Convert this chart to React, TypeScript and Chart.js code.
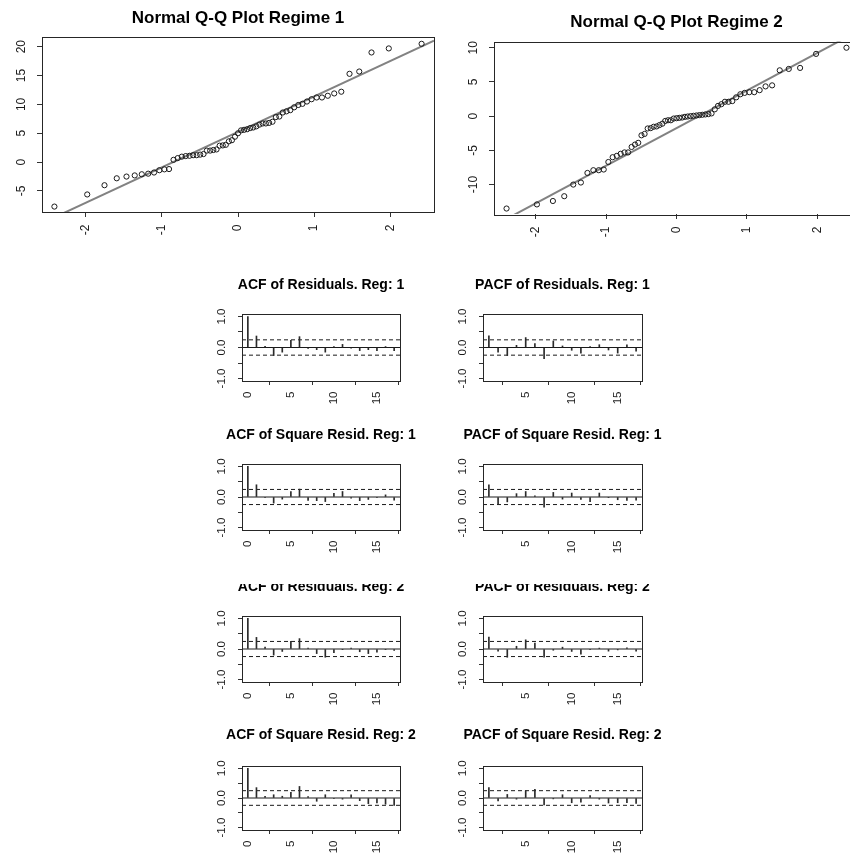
import React, { useEffect, useRef } from "react";
import { Chart, registerables } from "chart.js";

Chart.register(...registerables);

// ---------- DATA ----------
// theoretical normal quantiles (n = 63)
const qqTheoretical = [
  -2.412, -1.981, -1.754, -1.593, -1.465, -1.357, -1.264, -1.18, -1.103, -1.033,
  -0.967, -0.906, -0.847, -0.792, -0.738, -0.687, -0.637, -0.589, -0.543, -0.497,
  -0.453, -0.409, -0.366, -0.324, -0.282, -0.241, -0.2, -0.16, -0.12, -0.08, -0.04,
  0,
  0.04, 0.08, 0.12, 0.16, 0.2, 0.241, 0.282, 0.324, 0.366, 0.409, 0.453,
  0.497, 0.543, 0.589, 0.637, 0.687, 0.738, 0.792, 0.847, 0.906, 0.967,
  1.033, 1.103, 1.18, 1.264, 1.357, 1.465, 1.593, 1.754, 1.981, 2.412,
];
const qq1Sample = [
  -7.7, -5.6, -4.0, -2.8, -2.5, -2.3, -2.1, -2.0, -1.8, -1.4, -1.25, -1.2,
  0.4, 0.7, 0.95, 1.05, 1.1, 1.2, 1.2, 1.3, 1.4, 2.0,
  2.0, 2.1, 2.2, 2.85, 2.9, 3.0, 3.6, 3.8, 4.4, 5.0,
  5.5, 5.6, 5.7, 5.9, 6.0, 6.2, 6.5, 6.7, 6.7,
  6.8, 7.0, 7.8, 7.9, 8.6, 8.8, 9.0, 9.5, 9.9, 10.1, 10.5,
  10.9, 11.2, 11.2, 11.5, 11.9, 12.2, 15.3, 15.7, 19.0, 19.7, 20.5,
];
const qq2Sample = [
  -13.5, -12.9, -12.4, -11.7, -10.0, -9.7, -8.3, -7.9, -7.9, -7.8,
  -6.7, -6.0, -5.8, -5.5, -5.3, -5.3, -4.5, -4.15, -3.9, -2.8,
  -2.6, -1.8, -1.75, -1.55, -1.5, -1.3, -1.1, -0.7, -0.6, -0.6, -0.35,
  -0.3, -0.25, -0.2, -0.1, -0.05, 0.0, 0.05, 0.1, 0.15, 0.2, 0.25, 0.3,
  0.4, 1.0, 1.5, 1.75, 2.1, 2.1, 2.2, 2.75, 3.2, 3.4,
  3.5, 3.5, 3.8, 4.35, 4.5, 6.7, 6.9, 7.05, 9.1, 10.0,
];
const qq1LineIntercept = 5.24;
const qq1LineSlope = 6.14;
const qq2LineIntercept = -1.75;
const qq2LineSlope = 5.5;

const acfLags = [0, 1, 2, 3, 4, 5, 6, 7, 8, 9, 10, 11, 12, 13, 14, 15, 16, 17];
const pacfLags = [1, 2, 3, 4, 5, 6, 7, 8, 9, 10, 11, 12, 13, 14, 15, 16, 17];

const acfResidReg1 = [1.0, 0.37, 0.04, -0.26, -0.15, 0.23, 0.35, -0.03, -0.07, -0.15, 0.03, 0.1, -0.02, -0.1, -0.07, -0.1, 0.03, -0.1];
const pacfResidReg1 = [0.38, -0.15, -0.26, 0.07, 0.32, 0.13, -0.36, 0.21, 0.05, -0.09, -0.18, 0.03, 0.09, -0.08, -0.18, 0.09, -0.12];
const acfSqResidReg1 = [1.0, 0.4, -0.01, -0.2, -0.07, 0.18, 0.26, -0.11, -0.12, -0.15, 0.12, 0.18, -0.04, -0.12, -0.08, -0.02, 0.07, -0.1];
const pacfSqResidReg1 = [0.4, -0.22, -0.16, 0.11, 0.18, 0.04, -0.33, 0.15, -0.07, 0.13, -0.08, -0.15, 0.13, -0.01, -0.09, -0.11, -0.1];
const acfResidReg2 = [1.0, 0.38, 0.06, -0.2, -0.08, 0.25, 0.34, 0.03, -0.15, -0.27, -0.12, -0.01, 0.03, -0.09, -0.15, -0.1, -0.01, -0.05];
const pacfResidReg2 = [0.39, -0.07, -0.27, 0.09, 0.3, 0.19, -0.27, -0.04, 0.06, -0.08, -0.17, -0.01, 0.03, -0.07, -0.03, 0.04, -0.07];
const acfSqResidReg2 = [1.0, 0.35, 0.06, 0.11, 0.06, 0.19, 0.39, 0.05, -0.11, 0.11, -0.01, -0.04, 0.11, -0.09, -0.19, -0.17, -0.21, -0.25];
const pacfSqResidReg2 = [0.35, -0.1, 0.12, -0.04, 0.24, 0.29, -0.23, -0.03, 0.11, -0.16, -0.14, 0.08, -0.04, -0.17, -0.16, -0.16, -0.18];
const ciBound = 0.247;

const qqXTicks = [-2, -1, 0, 1, 2];
const qqXLabels = ["-2", "-1", "0", "1", "2"];
const qq1YTicks = [-5, 0, 5, 10, 15, 20];
const qq1YLabels = ["-5", "0", "5", "10", "15", "20"];
const qq2YTicks = [-10, -5, 0, 5, 10];
const qq2YLabels = ["-10", "-5", "0", "5", "10"];
const acfXTicks = [0, 5, 10, 15];
const acfXLabels = ["0", "5", "10", "15"];
const pacfXTicks = [5, 10, 15];
const pacfXLabels = ["5", "10", "15"];
const corrYTicks = [-1, -0.5, 0, 0.5, 1];
const corrYLabels = ["-1.0", "", "0.0", "", "1.0"];

const qq1XRange = [-2.575, 2.575];
const qq1YRange = [-8.64, 21.68];
const qq2XRange = [-2.59, 2.59];
const qq2YRange = [-14.3, 10.91];
const acfXRange = [-0.68, 17.68];
const pacfXRange = [0.36, 17.64];
const corrYRange = [-1.08, 1.08];

// ---------- STYLE / LAYOUT ----------
const FONT = "'Liberation Sans', Arial, Helvetica, sans-serif";
const INK = "#1a1a1a";

type Rect = { left: number; top: number; width: number; height: number };
type Box = { left: number; top: number; right: number; bottom: number };
type Spec = {
  canvas: Rect;
  box: Box;
  clipTop?: number;
  title: string;
  titleFont: string;
  titleBaseline: number;
  tickFont: string;
  tickLen: number;
  xLabelGap: number;
  yLabelGap: number;
  xRange: number[];
  yRange: number[];
  xTicks: number[];
  xLabels: string[];
  yTicks: number[];
  yLabels: string[];
  datasets: any[];
};

const pts = (xs: number[], ys: number[]) => xs.map((x, i) => ({ x, y: ys[i] }));

function qqDatasets(sample: number[], intercept: number, slope: number, xr: number[]) {
  return [
    {
      type: "scatter",
      data: pts(qqTheoretical, sample),
      pointStyle: "circle",
      pointRadius: 2.6,
      borderColor: INK,
      backgroundColor: "rgba(0,0,0,0)",
      borderWidth: 1,
      showLine: false,
    },
    {
      type: "line",
      data: [
        { x: xr[0], y: intercept + slope * xr[0] },
        { x: xr[1], y: intercept + slope * xr[1] },
      ],
      borderColor: "#828282",
      borderWidth: 2,
      pointRadius: 0,
      fill: false,
    },
  ];
}

function corrDatasets(lags: number[], vals: number[], xr: number[]) {
  const hline = (y: number, dash: number[]) => ({
    type: "line",
    data: [
      { x: xr[0], y },
      { x: xr[1], y },
    ],
    borderColor: INK,
    borderWidth: 1,
    borderDash: dash,
    pointRadius: 0,
    fill: false,
  });
  return [
    {
      type: "bar",
      data: pts(lags, vals),
      backgroundColor: "#2a2a2a",
      barThickness: 1,
      borderWidth: 0,
    },
    hline(0, []),
    hline(ciBound, [4, 3]),
    hline(-ciBound, [4, 3]),
  ];
}

function axisOpts(range: number[], ticks: number[], horizontal: boolean, tickLen: number) {
  return {
    type: "linear",
    min: range[0],
    max: range[1],
    offset: false,
    afterBuildTicks: (s: any) => {
      s.ticks = ticks.map((v) => ({ value: v }));
    },
    afterFit: (s: any) => {
      if (horizontal) s.height = 0;
      else s.width = 0;
    },
    ticks: { display: false },
    grid: {
      display: true,
      drawOnChartArea: false,
      drawTicks: true,
      tickLength: tickLen,
      color: "#333",
      lineWidth: 1,
    },
    border: { display: false },
  };
}

function buildConfig(spec: Spec): any {
  const c = spec.canvas;
  const b = spec.box;
  const overlay = {
    id: "overlay",
    afterDraw(chart: any) {
      const ctx = chart.ctx;
      const a = chart.chartArea;
      const xs = chart.scales.x;
      const ys = chart.scales.y;
      ctx.save();
      ctx.strokeStyle = "#262626";
      ctx.lineWidth = 1;
      ctx.strokeRect(
        Math.round(a.left) + 0.5,
        Math.round(a.top) + 0.5,
        Math.round(a.right - a.left),
        Math.round(a.bottom - a.top)
      );
      ctx.fillStyle = INK;
      ctx.font = spec.tickFont;
      ctx.textBaseline = "middle";
      spec.xTicks.forEach((v, i) => {
        const label = spec.xLabels[i];
        if (!label) return;
        const px = xs.getPixelForValue(v);
        ctx.save();
        ctx.translate(px, a.bottom + spec.xLabelGap);
        ctx.rotate(-Math.PI / 2);
        ctx.textAlign = "right";
        ctx.fillText(label, 0, 0);
        ctx.restore();
      });
      spec.yTicks.forEach((v, i) => {
        const label = spec.yLabels[i];
        if (!label) return;
        const py = ys.getPixelForValue(v);
        ctx.save();
        ctx.translate(a.left - spec.yLabelGap, py);
        ctx.rotate(-Math.PI / 2);
        ctx.textAlign = "center";
        ctx.fillText(label, 0, 0);
        ctx.restore();
      });
      ctx.fillStyle = "#000";
      ctx.font = spec.titleFont;
      ctx.textAlign = "center";
      ctx.textBaseline = "alphabetic";
      ctx.fillText(spec.title, (a.left + a.right) / 2, spec.titleBaseline - c.top);
      ctx.restore();
    },
  };
  return {
    type: "scatter",
    data: { datasets: spec.datasets },
    options: {
      animation: false,
      responsive: false,
      maintainAspectRatio: false,
      devicePixelRatio: 1,
      events: [],
      layout: {
        padding: {
          left: b.left - c.left,
          top: b.top - c.top,
          right: c.left + c.width - b.right,
          bottom: c.top + c.height - b.bottom,
        },
      },
      plugins: {
        legend: { display: false },
        tooltip: { enabled: false },
        title: { display: false },
      },
      scales: {
        x: axisOpts(spec.xRange, spec.xTicks, true, spec.tickLen),
        y: axisOpts(spec.yRange, spec.yTicks, false, spec.tickLen),
      },
    },
    plugins: [overlay],
  };
}

function Panel({ spec }: { spec: Spec }) {
  const ref = useRef<HTMLCanvasElement>(null);
  useEffect(() => {
    if (!ref.current) return;
    const chart = new Chart(ref.current, buildConfig(spec));
    return () => chart.destroy();
  }, []);
  const c = spec.canvas;
  const clipTop = spec.clipTop ?? c.top;
  return (
    <div
      style={{
        position: "absolute",
        left: c.left,
        top: clipTop,
        width: c.width,
        height: c.top + c.height - clipTop,
        overflow: "hidden",
      }}
    >
      <canvas
        ref={ref}
        width={c.width}
        height={c.height}
        style={{
          position: "absolute",
          left: 0,
          top: c.top - clipTop,
          width: c.width,
          height: c.height,
          display: "block",
        }}
      />
    </div>
  );
}

const qqTitleFont = `bold 17px ${FONT}`;
const corrTitleFont = `bold 14px ${FONT}`;

const qqSpecs: Spec[] = [
  {
    canvas: { left: 0, top: 0, width: 440, height: 250 },
    box: { left: 42, top: 37, right: 434, bottom: 212 },
    title: "Normal Q-Q Plot Regime 1",
    titleFont: qqTitleFont,
    titleBaseline: 22.5,
    tickFont: `12px ${FONT}`,
    tickLen: 5,
    xLabelGap: 12.5,
    yLabelGap: 20.5,
    xRange: qq1XRange,
    yRange: qq1YRange,
    xTicks: qqXTicks,
    xLabels: qqXLabels,
    yTicks: qq1YTicks,
    yLabels: qq1YLabels,
    datasets: qqDatasets(qq1Sample, qq1LineIntercept, qq1LineSlope, qq1XRange),
  },
  {
    canvas: { left: 440, top: 0, width: 430, height: 250 },
    box: { left: 494, top: 41.5, right: 859, bottom: 214 },
    title: "Normal Q-Q Plot Regime 2",
    titleFont: qqTitleFont,
    titleBaseline: 26.5,
    tickFont: `12px ${FONT}`,
    tickLen: 5,
    xLabelGap: 12.5,
    yLabelGap: 20,
    xRange: qq2XRange,
    yRange: qq2YRange,
    xTicks: qqXTicks,
    xLabels: qqXLabels,
    yTicks: qq2YTicks,
    yLabels: qq2YLabels,
    datasets: qqDatasets(qq2Sample, qq2LineIntercept, qq2LineSlope, qq2XRange),
  },
];

type RowLayout = {
  canvasTop: number;
  canvasHeight: number;
  boxTop: number;
  boxBottom: number;
  titleBaseline: number;
  clipTop?: number;
};

const rowLayouts: RowLayout[] = [
  { canvasTop: 265, canvasHeight: 150, boxTop: 314, boxBottom: 381, titleBaseline: 288.5 },
  { canvasTop: 415, canvasHeight: 150, boxTop: 464, boxBottom: 530, titleBaseline: 439.3 },
  { canvasTop: 565, canvasHeight: 150, boxTop: 616, boxBottom: 682, titleBaseline: 590.5, clipTop: 583.5 },
  { canvasTop: 715, canvasHeight: 141, boxTop: 766, boxBottom: 830, titleBaseline: 739.3 },
];

const rowContent = [
  { acfTitle: "ACF of Residuals. Reg: 1", acf: acfResidReg1, pacfTitle: "PACF of Residuals. Reg: 1", pacf: pacfResidReg1 },
  { acfTitle: "ACF of Square Resid. Reg: 1", acf: acfSqResidReg1, pacfTitle: "PACF of Square Resid. Reg: 1", pacf: pacfSqResidReg1 },
  { acfTitle: "ACF of Residuals. Reg: 2", acf: acfResidReg2, pacfTitle: "PACF of Residuals. Reg: 2", pacf: pacfResidReg2 },
  { acfTitle: "ACF of Square Resid. Reg: 2", acf: acfSqResidReg2, pacfTitle: "PACF of Square Resid. Reg: 2", pacf: pacfSqResidReg2 },
];

const corrSpecs: Spec[] = [];
rowLayouts.forEach((r, i) => {
  const content = rowContent[i];
  const common = {
    titleFont: corrTitleFont,
    titleBaseline: r.titleBaseline,
    tickFont: `11.5px ${FONT}`,
    tickLen: 4,
    xLabelGap: 10.5,
    yLabelGap: 20.5,
    yRange: corrYRange,
    yTicks: corrYTicks,
    yLabels: corrYLabels,
    clipTop: r.clipTop,
  };
  corrSpecs.push({
    ...common,
    canvas: { left: 195, top: r.canvasTop, width: 225, height: r.canvasHeight },
    box: { left: 242, top: r.boxTop, right: 400, bottom: r.boxBottom },
    title: content.acfTitle,
    xRange: acfXRange,
    xTicks: acfXTicks,
    xLabels: acfXLabels,
    datasets: corrDatasets(acfLags, content.acf, acfXRange),
  });
  corrSpecs.push({
    ...common,
    canvas: { left: 440, top: r.canvasTop, width: 225, height: r.canvasHeight },
    box: { left: 483, top: r.boxTop, right: 642, bottom: r.boxBottom },
    title: content.pacfTitle,
    xRange: pacfXRange,
    xTicks: pacfXTicks,
    xLabels: pacfXLabels,
    datasets: corrDatasets(pacfLags, content.pacf, pacfXRange),
  });
});

export default function App() {
  return (
    <div
      style={{
        position: "absolute",
        left: 0,
        top: 0,
        width: 850,
        height: 856,
        overflow: "hidden",
        background: "#fff",
      }}
    >
      {qqSpecs.map((s, i) => (
        <Panel key={"qq" + i} spec={s} />
      ))}
      {corrSpecs.map((s, i) => (
        <Panel key={"corr" + i} spec={s} />
      ))}
    </div>
  );
}
